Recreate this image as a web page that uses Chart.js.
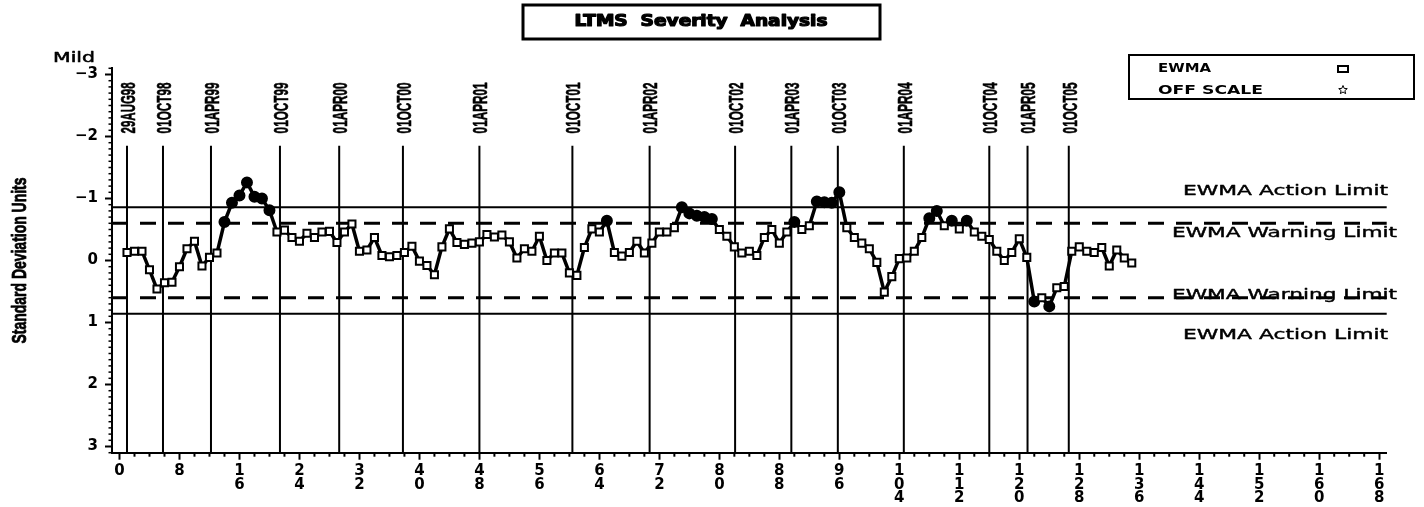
<!DOCTYPE html>
<html>
<head>
<meta charset="utf-8">
<script src="https://cdn.jsdelivr.net/npm/chart.js@4.4.1/dist/chart.umd.min.js"></script>
<style>
  html, body { margin: 0; padding: 0; background: #fff; }
</style>
</head>
<body>
<canvas id="ltmsChart" width="1424" height="507"></canvas>
<script>
// EWMA values in standard deviation units, one per test (test 1 .. 135)
const ewmaValues = [
  -0.13, -0.15, -0.15, 0.15, 0.46, 0.36, 0.35, 0.10, -0.19, -0.31,
  0.09, -0.05, -0.12, -0.62, -0.93, -1.05, -1.26, -1.03, -1.00, -0.81,
  -0.46, -0.49, -0.37, -0.31, -0.44, -0.37, -0.46, -0.47, -0.29, -0.46,
  -0.59, -0.15, -0.17, -0.37, -0.08, -0.06, -0.08, -0.13, -0.23, 0.01,
  0.08, 0.23, -0.22, -0.51, -0.29, -0.26, -0.28, -0.30, -0.42, -0.38,
  -0.41, -0.30, -0.04, -0.19, -0.15, -0.39, 0.00, -0.12, -0.12, 0.20,
  0.24, -0.21, -0.51, -0.46, -0.64, -0.13, -0.07, -0.13, -0.31, -0.12,
  -0.28, -0.46, -0.46, -0.53, -0.86, -0.76, -0.72, -0.70, -0.67, -0.50,
  -0.39, -0.22, -0.12, -0.15, -0.08, -0.37, -0.50, -0.28, -0.46, -0.62,
  -0.50, -0.56, -0.95, -0.94, -0.93, -1.10, -0.53, -0.37, -0.28, -0.19,
  0.03, 0.51, 0.26, -0.03, -0.04, -0.15, -0.37, -0.68, -0.80, -0.56,
  -0.64, -0.51, -0.64, -0.46, -0.39, -0.34, -0.15, 0.00, -0.13, -0.35,
  -0.05, 0.66, 0.60, 0.74, 0.44, 0.42, -0.15, -0.22, -0.15, -0.13,
  -0.21, 0.09, -0.17, -0.04, 0.04
];

// calendar reference lines (position on the test axis)
const dateLabels = ['29AUG98', '01OCT98', '01APR99', '01OCT99', '01APR00', '01OCT00', '01APR01', '01OCT01',
                    '01APR02', '01OCT02', '01APR03', '01OCT03', '01APR04', '01OCT04', '01APR05', '01OCT05'];
const datePositions = [1.0, 5.8, 12.2, 21.4, 29.3, 37.8, 48.0, 60.4, 70.7, 82.1, 89.6, 95.8, 104.6, 116.0, 121.1, 126.6];

const actionLimit = 0.86;
const warningLimit = 0.6;

const xTicks = [0, 8, 16, 24, 32, 40, 48, 56, 64, 72, 80, 88, 96, 104, 112, 120, 128, 136, 144, 152, 160, 168];
const yTicks = [-3, -2, -1, 0, 1, 2, 3];

const points = ewmaValues.map((v, i) => ({ x: i + 1, y: v }));

function isOut(v) {
  return Math.abs(v) > warningLimit;
}

// draw text squeezed/stretched to a given width (heavy = extra stroke)
function fitText(ctx, text, x, y, width, font, align, heavy) {
  ctx.font = font;
  const s = width / ctx.measureText(text).width;
  ctx.save();
  ctx.translate(x, y);
  ctx.scale(s, 1);
  ctx.textAlign = align;
  ctx.textBaseline = 'middle';
  ctx.fillText(text, 0, 0);
  if (heavy) {
    ctx.lineWidth = heavy;
    ctx.lineJoin = 'round';
    ctx.strokeText(text, 0, 0);
  }
  ctx.restore();
}

function line(ctx, x1, y1, x2, y2) {
  ctx.beginPath();
  ctx.moveTo(x1, y1);
  ctx.lineTo(x2, y2);
  ctx.stroke();
}

const overlay = {
  id: 'overlay',
  beforeDatasetsDraw(chart) {
    const { ctx, chartArea: a, scales: { x, y } } = chart;
    ctx.save();
    ctx.strokeStyle = '#000';
    ctx.fillStyle = '#000';

    // action limits
    ctx.lineWidth = 2;
    [-actionLimit, actionLimit].forEach(v => {
      const py = y.getPixelForValue(v);
      line(ctx, a.left, py, a.right, py);
    });
    // warning limits
    ctx.lineWidth = 3;
    ctx.setLineDash([16, 12]);
    [-warningLimit, warningLimit].forEach(v => {
      const py = y.getPixelForValue(v);
      line(ctx, a.left, py, a.right, py);
    });
    ctx.setLineDash([]);

    // date lines + labels
    ctx.lineWidth = 2;
    const top = y.getPixelForValue(-1.85);
    const labelEnd = y.getPixelForValue(-2.05);
    datePositions.forEach((p, i) => {
      const px = x.getPixelForValue(p);
      line(ctx, px, top, px, a.bottom);
      ctx.save();
      ctx.translate(px + 2, labelEnd);
      ctx.rotate(-Math.PI / 2);
      fitText(ctx, dateLabels[i], 0, 0, 51, 'bold 21px "Liberation Sans"', 'left', 0.6);
      ctx.restore();
    });
    ctx.restore();
  },
  afterDraw(chart) {
    const { ctx, chartArea: a, scales: { x, y } } = chart;
    ctx.save();
    ctx.strokeStyle = '#000';
    ctx.fillStyle = '#000';

    // minor ticks
    ctx.lineWidth = 1.5;
    for (let k = -31; k <= 31; k++) {
      if (k % 10 === 0) continue;
      const py = y.getPixelForValue(k / 10);
      line(ctx, a.left - 3.5, py, a.left, py);
    }
    ctx.lineWidth = 2;
    for (let k = 0; k <= 168; k += 2) {
      if (k % 8 === 0) continue;
      const px = x.getPixelForValue(k);
      line(ctx, px, a.bottom, px, a.bottom + 4);
    }

    // title box
    ctx.lineWidth = 3;
    ctx.strokeRect(523, 5, 357, 34);
    fitText(ctx, 'LTMS  Severity  Analysis', 701, 22, 253, 'bold 15px "DejaVu Sans"', 'center', 1.2);

    // axis captions
    fitText(ctx, 'Mild', 74, 58, 42, '14px "DejaVu Sans"', 'center', 0.5);
    ctx.save();
    ctx.translate(20, (a.top + a.bottom) / 2);
    ctx.rotate(-Math.PI / 2);
    fitText(ctx, 'Standard Deviation Units', 0, 0, 166, 'bold 21px "Liberation Sans"', 'center', 0.8);
    ctx.restore();

    // legend
    ctx.lineWidth = 2;
    ctx.strokeRect(1129, 55, 285, 44);
    fitText(ctx, 'EWMA', 1158, 69, 53, 'bold 12px "DejaVu Sans"', 'left');
    fitText(ctx, 'OFF SCALE', 1158, 91, 105, 'bold 12px "DejaVu Sans"', 'left');
    ctx.strokeRect(1338, 66, 10, 6);
    ctx.lineWidth = 1;
    ctx.beginPath();
    for (let k = 0; k < 10; k++) {
      const r = k % 2 === 0 ? 4.5 : 2;
      const ang = -Math.PI / 2 + k * Math.PI / 5;
      const px = 1343 + r * Math.cos(ang), py = 90 + r * Math.sin(ang);
      k === 0 ? ctx.moveTo(px, py) : ctx.lineTo(px, py);
    }
    ctx.closePath();
    ctx.stroke();

    // limit labels
    const f = '14px "DejaVu Sans"';
    fitText(ctx, 'EWMA Action Limit', 1388, y.getPixelForValue(-actionLimit) - 16, 205, f, 'right', 0.4);
    fitText(ctx, 'EWMA Warning Limit', 1397, y.getPixelForValue(-warningLimit) + 10, 225, f, 'right', 0.4);
    fitText(ctx, 'EWMA Warning Limit', 1397, y.getPixelForValue(warningLimit) - 2, 225, f, 'right', 0.4);
    fitText(ctx, 'EWMA Action Limit', 1388, y.getPixelForValue(actionLimit) + 22, 205, f, 'right', 0.4);
    ctx.restore();
  }
};

const ctx = document.getElementById('ltmsChart').getContext('2d');
const ltmsChart = new Chart(ctx, {
  type: 'line',
  data: {
    datasets: [{
      label: 'EWMA',
      data: points,
      borderColor: '#000',
      borderWidth: 3.5,
      tension: 0,
      pointStyle: c => isOut(c.raw.y) ? 'circle' : 'rect',
      pointRadius: c => isOut(c.raw.y) ? 5 : 5,
      pointBackgroundColor: c => isOut(c.raw.y) ? '#000' : '#fff',
      pointBorderColor: '#000',
      pointBorderWidth: 2
    }]
  },
  options: {
    responsive: false,
    animation: false,
    devicePixelRatio: 1,
    layout: { padding: { top: 68.3, right: 37.3, left: 0, bottom: 0 } },
    plugins: { legend: { display: false }, tooltip: { enabled: false } },
    scales: {
      x: {
        type: 'linear',
        min: -1,
        max: 169,
        afterBuildTicks: s => { s.ticks = xTicks.map(v => ({ value: v })); },
        afterFit: s => { s.height = 54.3; },
        ticks: {
          autoSkip: false,
          maxRotation: 0,
          padding: 4,
          color: '#000',
          font: { family: 'DejaVu Sans', size: 15, weight: 'bold', lineHeight: 0.93 },
          callback: v => String(v).split('')
        },
        grid: { drawOnChartArea: false, drawTicks: true, tickLength: 7, tickWidth: 2, tickColor: '#000' },
        border: { display: true, color: '#000', width: 2 }
      },
      y: {
        type: 'linear',
        reverse: true,
        min: -3.1,
        max: 3.1,
        afterBuildTicks: s => { s.ticks = yTicks.map(v => ({ value: v })); },
        afterFit: s => { s.width = 112; },
        ticks: {
          padding: 7,
          color: '#000',
          font: { family: 'DejaVu Sans', size: 15, weight: 'bold' },
          callback: v => v < 0 ? '\u2212' + Math.abs(v) : String(v)
        },
        grid: { drawOnChartArea: false, drawTicks: true, tickLength: 7, tickWidth: 2, tickColor: '#000' },
        border: { display: true, color: '#000', width: 2 }
      }
    }
  },
  plugins: [overlay]
});
</script>
</body>
</html>
